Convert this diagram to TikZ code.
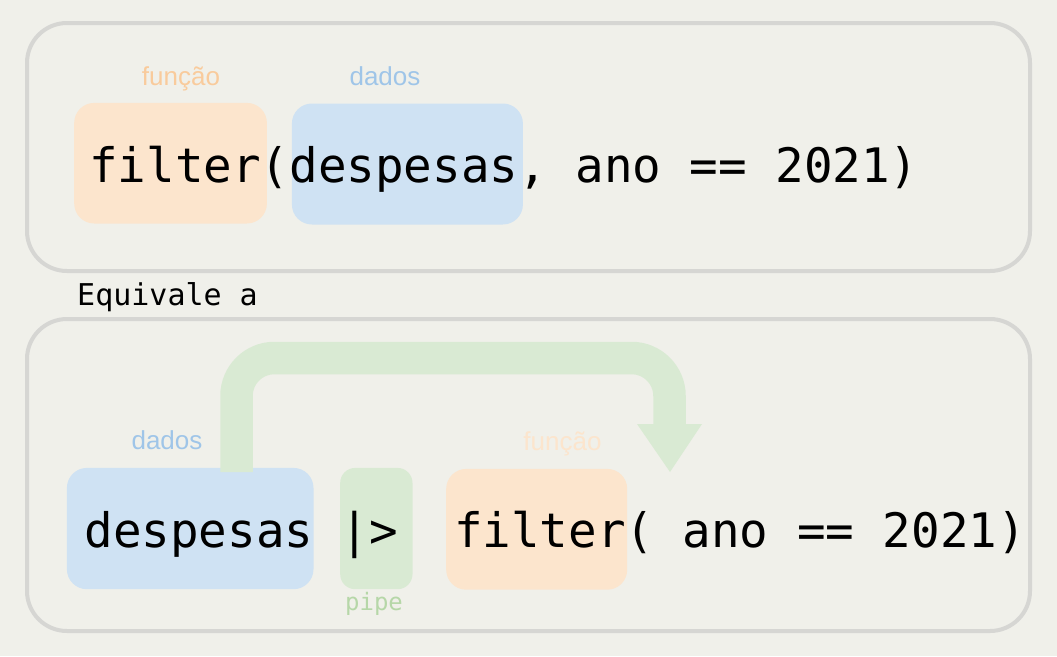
\documentclass[tikz,border=0pt]{standalone}
\usepackage{fontspec}
\setmainfont{Liberation Sans}
\setmonofont{DejaVu Sans Mono}
\definecolor{bg}{HTML}{F0F0EA}
\definecolor{framegray}{HTML}{D6D6D3}
\definecolor{orangeA}{HTML}{FCE5CD}
\definecolor{blueA}{HTML}{CFE2F3}
\definecolor{greenA}{HTML}{D9EAD3}
\definecolor{orangeB}{HTML}{F9CB9C}
\definecolor{blueB}{HTML}{9FC5E8}
\definecolor{greenB}{HTML}{B6D7A8}
\tikzset{
  frame/.style={draw=framegray, line width=4pt, rounded corners=40pt},
  cbox/.style={rectangle, rounded corners=20pt, inner sep=0pt, anchor=north west},
  code/.style={font=\ttfamily\fontsize{47.5}{56}\selectfont, inner sep=0pt, anchor=base, text=black},
  small/.style={font=\ttfamily\fontsize{30}{36}\selectfont, inner sep=0pt, anchor=base west, text=black},
  lab/.style={font=\fontsize{26}{31}\selectfont, inner sep=0pt, anchor=base},
  monolab/.style={font=\ttfamily\fontsize{24}{29}\selectfont, inner sep=0pt, anchor=base},
  pipearrow/.style={draw=greenA, line width=32.5pt, rounded corners=38pt}
}
\begin{document}
\begin{tikzpicture}[x=1pt,y=-1pt]
\fill[bg] (0,0) rectangle (1057,656);
\useasboundingbox (0,0) rectangle (1057,656);

% outer frames
\draw[frame] (27,23) rectangle (1030,271);
\draw[frame] (27,319) rectangle (1030,631);

% top row boxes
\node[cbox, fill=orangeA, minimum width=192.7pt, minimum height=120.6pt] (fun1) at (74,102.7) {};
\node[cbox, fill=blueA, minimum width=231pt, minimum height=121pt] (dat1) at (291.7,103.3) {};

% bottom row boxes
\node[cbox, fill=blueA, minimum width=246.6pt, minimum height=121.3pt] (dat2) at (66.7,467.7) {};
\node[cbox, fill=greenA, rounded corners=15pt, minimum width=72.3pt, minimum height=121.3pt] (pip) at (340,467.7) {};
\node[cbox, fill=orangeA, minimum width=181pt, minimum height=120.8pt] (fun2) at (446,468.7) {};

% pipe arrow
\coordinate (arrS) at (236.5,472);
\coordinate (arrE) at (669.5,425);
\draw[pipearrow] (arrS) -- (236.5,358) -- (669.5,358) -- (arrE);
\fill[greenA] (637,424) -- (702,424) -- (670,472) -- cycle;

% labels
\node[lab, text=orangeB] (lfun1) at (181,85) {função};
\node[lab, text=blueB] (ldat1) at (385,85) {dados};
\node[lab, text=blueB] (ldat2) at (167,449) {dados};
\node[lab, text=orangeA] (lfun2) at (562.5,450) {função};
\node[monolab, text=greenB] (lpip) at (374,610) {pipe};

% code
\node[code] (c1) at (504,182) {filter(despesas, ano == 2021)};
\node[small] (eq) at (77,305) {Equivale a};
\node[code] (c2) at (199,547) {despesas};
\node[code] (c3) at (369,547) {|>};
\node[code] (c4) at (740,547) {filter( ano == 2021)};
\end{tikzpicture}
\end{document}
